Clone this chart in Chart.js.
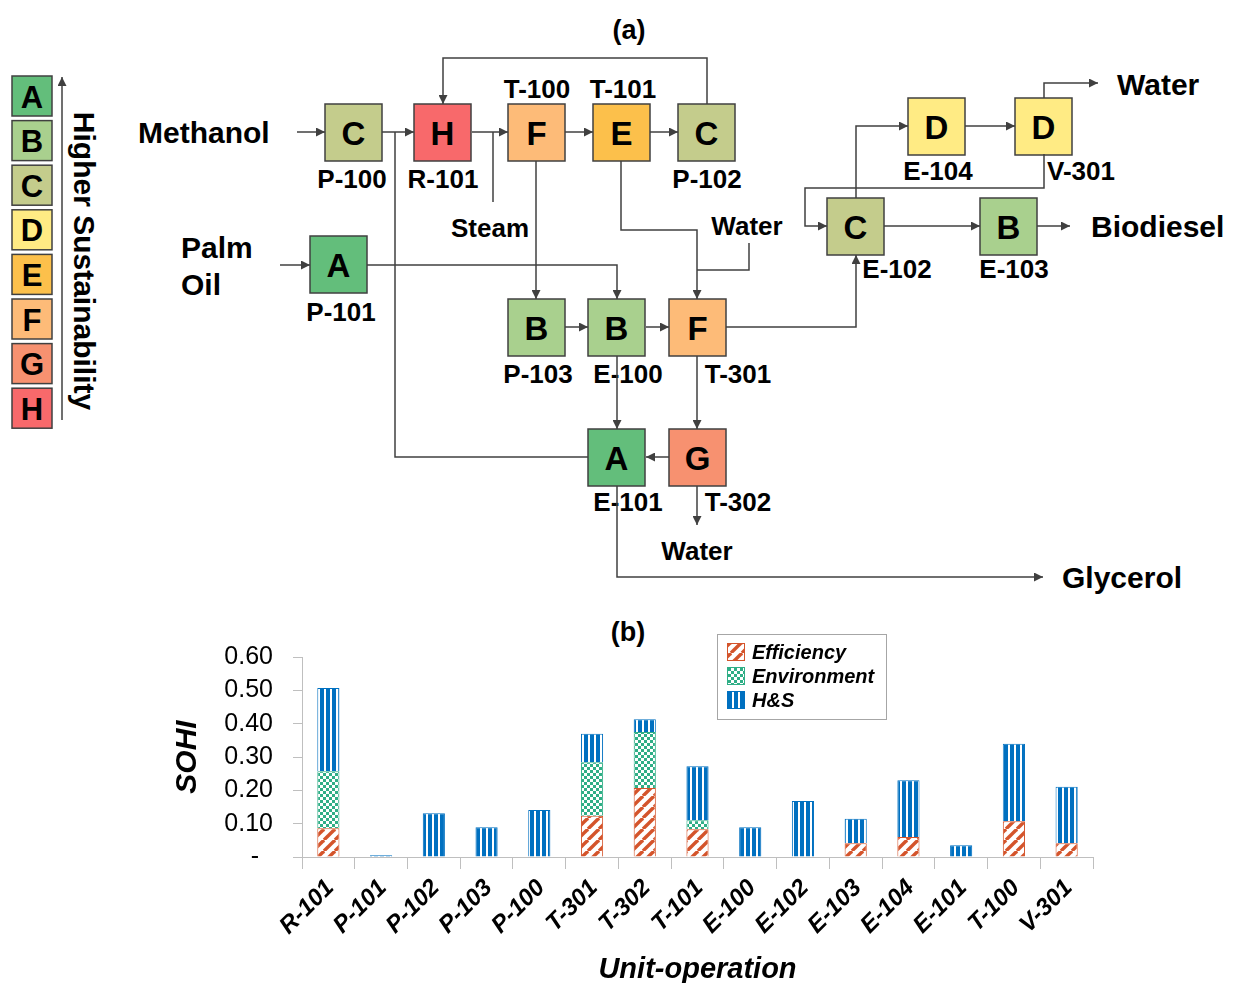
<!DOCTYPE html>
<html>
<head>
<meta charset="utf-8">
<script src="https://cdn.jsdelivr.net/npm/chart.js@4/dist/chart.umd.min.js"></script>
<style>
  html, body { margin: 0; padding: 0; background: #fff; }
  body { width: 1233px; height: 983px; position: relative; overflow: hidden;
         font-family: "Liberation Sans", Arial, sans-serif; }
  #diagram { position: absolute; left: 0; top: 0; }
  #sohi { position: absolute; left: 170px; top: 620px; }
  .panel { position: absolute; font-weight: bold; font-size: 27px; transform: translate(-50%, -50%); }
</style>
</head>
<body>
<svg id="diagram" width="1233" height="610"></svg>
<div class="panel" style="left:628px; top:632px;">(b)</div>
<canvas id="sohi" width="940" height="363"></canvas>
<script>
// SOHI per unit-operation, stacked by indicator group
const units = ['R-101', 'P-101', 'P-102', 'P-103', 'P-100', 'T-301', 'T-302', 'T-101',
               'E-100', 'E-102', 'E-103', 'E-104', 'E-101', 'T-100', 'V-301'];
const efficiency  = [0.086, 0, 0, 0, 0, 0.124, 0.207, 0.083, 0, 0, 0.041, 0.060, 0, 0.107, 0.041];
const environment = [0.171, 0, 0, 0, 0, 0.160, 0.168, 0.027, 0, 0, 0, 0, 0, 0, 0];
const healthSafety = [0.250, 0.005, 0.131, 0.089, 0.141, 0.086, 0.038, 0.162, 0.089, 0.168, 0.074, 0.170, 0.035, 0.233, 0.170];
const yTicks = [0, 0.1, 0.2, 0.3, 0.4, 0.5, 0.6];

// sustainability grades
const grades = ['A', 'B', 'C', 'D', 'E', 'F', 'G', 'H'];
const gradeColors = ['#63be7b', '#a9d08e', '#c4cc8c', '#ffeb84', '#fcc04b', '#fdbb78', '#f79170', '#f8696b'];

const FONT = '"Liberation Sans", Arial, sans-serif';
const LINE = '#404040';

// ---------- (a) flow diagram ----------
const nodes = [
  { id: 'P-100', g: 'C', x: 325, y: 104, lx: 352, ly: 179 },
  { id: 'R-101', g: 'H', x: 414, y: 104, lx: 443, ly: 179 },
  { id: 'T-100', g: 'F', x: 508, y: 104, lx: 537, ly: 89 },
  { id: 'T-101', g: 'E', x: 593, y: 104, lx: 623, ly: 89 },
  { id: 'P-102', g: 'C', x: 678, y: 104, lx: 707, ly: 179 },
  { id: 'P-101', g: 'A', x: 310, y: 236, lx: 341, ly: 312 },
  { id: 'P-103', g: 'B', x: 508, y: 299, lx: 538, ly: 374 },
  { id: 'E-100', g: 'B', x: 588, y: 299, lx: 628, ly: 374 },
  { id: 'T-301', g: 'F', x: 669, y: 299, lx: 738, ly: 374 },
  { id: 'E-101', g: 'A', x: 588, y: 429, lx: 628, ly: 502 },
  { id: 'T-302', g: 'G', x: 669, y: 429, lx: 738, ly: 502 },
  { id: 'E-104', g: 'D', x: 908, y: 98,  lx: 938, ly: 171 },
  { id: 'V-301', g: 'D', x: 1015, y: 98, lx: 1081, ly: 171 },
  { id: 'E-102', g: 'C', x: 827, y: 198, lx: 897, ly: 269 },
  { id: 'E-103', g: 'B', x: 980, y: 198, lx: 1014, ly: 269 }
];
const BOX = 57;

// [points, arrow]
const streams = [
  [[[297, 132], [325, 132]], true],
  [[[382, 132], [414, 132]], true],
  [[[472, 132], [508, 132]], true],
  [[[565, 132], [593, 132]], true],
  [[[650, 132], [678, 132]], true],
  [[[707, 104], [707, 58], [443, 58], [443, 104]], true],
  [[[493, 132], [493, 202]], false],
  [[[395, 132], [395, 457], [588, 457]], false],
  [[[536, 161], [536, 299]], true],
  [[[621, 161], [621, 230], [697, 230], [697, 299]], true],
  [[[749, 243], [749, 270], [697, 270]], false],
  [[[280, 265], [310, 265]], true],
  [[[367, 265], [617, 265], [617, 299]], true],
  [[[565, 327], [588, 327]], true],
  [[[646, 327], [669, 327]], true],
  [[[726, 327], [856, 327], [856, 255]], true],
  [[[617, 356], [617, 429]], true],
  [[[697, 356], [697, 429]], true],
  [[[669, 457], [646, 457]], true],
  [[[697, 486], [697, 525]], true],
  [[[617, 486], [617, 577], [1043, 577]], true],
  [[[856, 198], [856, 126], [908, 126]], true],
  [[[965, 126], [1015, 126]], true],
  [[[1044, 98], [1044, 83], [1098, 83]], true],
  [[[1044, 154], [1044, 188], [805, 188], [805, 226], [827, 226]], true],
  [[[884, 226], [980, 226]], true],
  [[[1037, 226], [1070, 226]], true]
];

const streamLabels = [
  { t: 'Methanol', x: 138, y: 132, s: 30, a: 'start' },
  { t: 'Palm', x: 181, y: 247, s: 30, a: 'start' },
  { t: 'Oil', x: 181, y: 284, s: 30, a: 'start' },
  { t: 'Steam', x: 490, y: 228, s: 26, a: 'middle' },
  { t: 'Water', x: 747, y: 226, s: 26, a: 'middle' },
  { t: 'Water', x: 697, y: 551, s: 26, a: 'middle' },
  { t: 'Glycerol', x: 1062, y: 577, s: 30, a: 'start' },
  { t: 'Biodiesel', x: 1091, y: 226, s: 30, a: 'start' },
  { t: 'Water', x: 1117, y: 84, s: 30, a: 'start' },
  { t: '(a)', x: 629, y: 30, s: 27, a: 'middle' }
];

function gradeColor(g) { return gradeColors[grades.indexOf(g)]; }

function drawDiagram() {
  const svg = document.getElementById('diagram');
  let out = '<defs><marker id="ah" markerWidth="9" markerHeight="9" refX="9" refY="4.5" orient="auto" markerUnits="userSpaceOnUse">' +
            '<path d="M0,0 L9,4.5 L0,9 z" fill="' + LINE + '"/></marker></defs>';
  const txt = (t, x, y, size, anchor, extra) =>
    `<text x="${x}" y="${y}" font-family='${FONT}' font-weight="bold" font-size="${size}" text-anchor="${anchor}" dominant-baseline="central" fill="#000" ${extra || ''}>${t}</text>`;

  // grade scale on the left
  grades.forEach((g, i) => {
    const y = 76 + i * 44.6;
    out += `<rect x="12" y="${y}" width="40" height="40" fill="${gradeColors[i]}" stroke="${LINE}" stroke-width="1.5"/>`;
    out += txt(g, 32, y + 21, 31, 'middle');
  });
  out += `<line x1="62" y1="420" x2="62" y2="77" stroke="${LINE}" stroke-width="1.5" marker-end="url(#ah)"/>`;
  out += txt('Higher Sustainability', 84, 261, 30, 'middle', 'transform="rotate(90 84 261)"');

  nodes.forEach(n => {
    out += `<rect x="${n.x}" y="${n.y}" width="${BOX}" height="${BOX}" fill="${gradeColor(n.g)}" stroke="${LINE}" stroke-width="1.5"/>`;
    out += txt(n.g, n.x + BOX / 2, n.y + BOX / 2 + 1, 33, 'middle');
    out += txt(n.id, n.lx, n.ly, 26, 'middle');
  });
  streamLabels.forEach(l => { out += txt(l.t, l.x, l.y, l.s, l.a); });

  streams.forEach(([pts, arrow]) => {
    const d = pts.map(p => p.join(',')).join(' ');
    out += `<polyline points="${d}" fill="none" stroke="${LINE}" stroke-width="1.5" ${arrow ? 'marker-end="url(#ah)"' : ''}/>`;
  });
  svg.innerHTML = out;
}
drawDiagram();

// ---------- (b) SOHI bar chart ----------
function makePattern(kind) {
  const c = document.createElement('canvas');
  const x = c.getContext('2d');
  if (kind === 'diag') {
    c.width = 11; c.height = 11;
    x.fillStyle = '#fff'; x.fillRect(0, 0, 11, 11);
    x.strokeStyle = '#d4542b'; x.lineWidth = 3.4;
    [-11, 0, 11].forEach(dx => {
      x.beginPath(); x.moveTo(dx, 11); x.lineTo(dx + 11, 0); x.stroke();
    });
  } else if (kind === 'check') {
    c.width = 6; c.height = 6;
    x.fillStyle = '#fff'; x.fillRect(0, 0, 6, 6);
    x.fillStyle = '#2fae86';
    x.fillRect(0, 0, 3, 3); x.fillRect(3, 3, 3, 3);
  } else {
    c.width = 6; c.height = 2;
    x.fillStyle = '#fff'; x.fillRect(0, 0, 6, 2);
    x.fillStyle = '#0070c0'; x.fillRect(0, 0, 4, 2);
  }
  return x.createPattern(c, 'repeat');
}

const ctx = document.getElementById('sohi').getContext('2d');

const legendBox = {
  id: 'legendBox',
  afterDraw(chart) {
    const c = chart.ctx;
    c.save();
    c.strokeStyle = '#a6a6a6'; c.lineWidth = 1;
    c.strokeRect(547.5, 14.5, 169, 85);
    c.font = 'italic bold 20px ' + FONT;
    c.textBaseline = 'middle';
    chart.data.datasets.forEach((ds, i) => {
      const y = 32 + i * 24;
      c.fillStyle = ds.backgroundColor;
      c.fillRect(557, y - 9, 18, 18);
      c.strokeStyle = ds.borderColor; c.lineWidth = 1;
      c.strokeRect(557.5, y - 8.5, 17, 17);
      c.fillStyle = '#000';
      c.fillText(ds.label, 582, y + 1);
    });
    c.restore();
  }
};

const sohiChart = new Chart(ctx, {
  type: 'bar',
  data: {
    labels: units,
    datasets: [
      { label: 'Efficiency', data: efficiency, backgroundColor: makePattern('diag'), borderColor: '#d4542b', borderWidth: 1 },
      { label: 'Environment', data: environment, backgroundColor: makePattern('check'), borderColor: '#2fae86', borderWidth: 1 },
      { label: 'H&S', data: healthSafety, backgroundColor: makePattern('vert'), borderColor: '#0070c0', borderWidth: 1 }
    ]
  },
  options: {
    responsive: false,
    animation: false,
    devicePixelRatio: 1,
    layout: { padding: { top: 37, right: 17, left: 0, bottom: 0 } },
    datasets: { bar: { barPercentage: 0.42, categoryPercentage: 1 } },
    plugins: { legend: { display: false }, tooltip: { enabled: false } },
    scales: {
      x: {
        stacked: true,
        grid: { offset: true, drawOnChartArea: false, tickLength: 12, color: '#bfbfbf' },
        border: { color: '#bfbfbf' },
        ticks: {
          color: '#000', maxRotation: 45, minRotation: 45, labelOffset: 2, padding: 5,
          font: { family: FONT, size: 24, weight: 'bold', style: 'italic' }
        },
        title: {
          display: true, text: 'Unit-operation', color: '#000', padding: { top: 0, bottom: -4 },
          font: { family: FONT, size: 29, weight: 'bold', style: 'italic' }
        },
        afterFit(scale) { scale.height = 126; }
      },
      y: {
        stacked: true,
        min: 0, max: 0.6,
        afterBuildTicks(scale) { scale.ticks = yTicks.map(v => ({ value: v })); },
        grid: { drawOnChartArea: false, tickLength: 9, color: '#bfbfbf' },
        border: { color: '#bfbfbf' },
        ticks: {
          color: '#000', padding: 20,
          font: { family: FONT, size: 25 },
          callback: v => v === 0 ? '-  ' : v.toFixed(2)
        },
        title: {
          display: true, text: 'SOHI', color: '#000', padding: { top: 0, bottom: 0 },
          font: { family: FONT, size: 30, weight: 'bold', style: 'italic' }
        },
        afterFit(scale) { scale.width = 132; }
      }
    }
  },
  plugins: [legendBox]
});
</script>
</body>
</html>
